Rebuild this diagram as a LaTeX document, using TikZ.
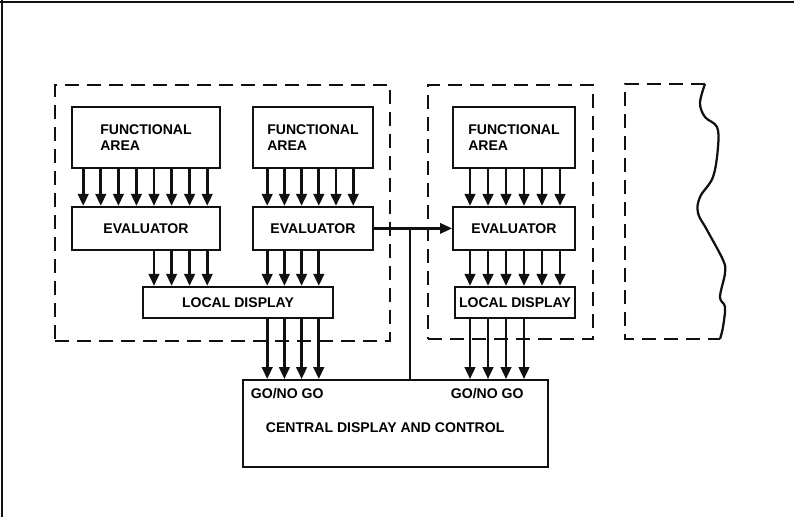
\documentclass[tikz,border=0pt]{standalone}
\usepackage{fontspec}
\setmainfont{Liberation Sans}
\usetikzlibrary{shapes,arrows.meta,positioning,calc}
\definecolor{InkBlack}{HTML}{111111}

\begin{document}
\begin{tikzpicture}[
    font=\bfseries\fontsize{10}{12}\selectfont,
    line join=miter,
    blk/.style={draw=InkBlack, line width=1.4pt, fill=white, align=left, inner sep=2pt},
    grp/.style={draw=InkBlack, line width=1.6pt, dash pattern=on 0.35cm off 0.2cm},
    sig/.style={draw=InkBlack, line width=2pt, -{Triangle[length=0.3cm,width=0.26cm]}},
    link/.style={draw=InkBlack, line width=1.6pt}
]

  \useasboundingbox (0,0) rectangle (19.85,-12.925);

  % Cadre de la page (haut et gauche)
  \draw[InkBlack, line width=1.5pt] (0,-0.05) -- (19.85,-0.05);
  \draw[InkBlack, line width=1.5pt] (0.05,0) -- (0.05,-12.925);

  % =========================================================================
  % GROUPES EN TIRETS
  % =========================================================================
  \node[grp, minimum width=8.375cm, minimum height=6.4cm] (grp1) at (5.56, -5.33) {};
  \node[grp, minimum width=4.125cm, minimum height=6.35cm] (grp2) at (12.76, -5.30) {};

  % groupe coupe a droite
  \draw[grp] (17.625,-2.1) -- (15.625,-2.1) -- (15.625,-8.475) -- (18.0,-8.475);
  \draw[InkBlack, line width=1.6pt] plot[smooth, tension=0.6] coordinates {
    (17.625,-2.1) (17.5,-2.575) (17.625,-2.925) (17.925,-3.175) (17.95,-3.675)
    (17.825,-4.425) (17.5,-4.925) (17.45,-5.325) (17.675,-5.75) (18.075,-6.5)
    (18.125,-6.825) (18.0,-7.425) (18.125,-7.675) (18.075,-8.175) (18.0,-8.475)};

  % =========================================================================
  % ZONES FONCTIONNELLES
  % =========================================================================
  \node[blk, minimum width=3.7cm, minimum height=1.525cm] (fa1) at (3.65, -3.44) {FUNCTIONAL\\AREA};
  \node[blk, minimum width=3.0cm, minimum height=1.525cm] (fa2) at (7.825, -3.44) {FUNCTIONAL\\AREA};
  \node[blk, minimum width=3.05cm, minimum height=1.525cm] (fa3) at (12.85, -3.44) {FUNCTIONAL\\AREA};

  % =========================================================================
  % EVALUATEURS
  % =========================================================================
  \node[blk, minimum width=3.7cm, minimum height=1.075cm] (ev1) at (3.65, -5.71) {EVALUATOR};
  \node[blk, minimum width=3.0cm, minimum height=1.075cm] (ev2) at (7.825, -5.71) {EVALUATOR};
  \node[blk, minimum width=3.05cm, minimum height=1.075cm] (ev3) at (12.85, -5.71) {EVALUATOR};

  % =========================================================================
  % AFFICHAGES LOCAUX ET CENTRAL
  % =========================================================================
  \node[blk, minimum width=4.75cm, minimum height=0.775cm] (ld1) at (5.95, -7.56) {LOCAL DISPLAY};
  \node[blk, minimum width=3.0cm, minimum height=0.775cm, inner sep=0pt] (ld3) at (12.875, -7.56) {LOCAL DISPLAY};

  \node[blk, minimum width=7.625cm, minimum height=2.175cm] (cdc) at (9.89, -10.59) {};
  \node (gng1) at (7.18, -9.83) {GO/NO GO};
  \node (gng2) at (12.18, -9.83) {GO/NO GO};
  \node (cdctxt) at (9.63, -10.68) {CENTRAL DISPLAY AND CONTROL};

  % =========================================================================
  % LIAISONS
  % =========================================================================
  \foreach \x in {2.08,2.52,2.96,3.41,3.85,4.29,4.74,5.18}
    \draw[sig] (\x,0 |- fa1.south) -- (\x,0 |- ev1.north);
  \foreach \x in {6.68,7.11,7.54,7.97,8.40,8.83}
    \draw[sig] (\x,0 |- fa2.south) -- (\x,0 |- ev2.north);
  \foreach \x in {11.75,12.2,12.65,13.1,13.55,14.0} {
    \draw[sig] (\x,0 |- fa3.south) -- (\x,0 |- ev3.north);
    \draw[sig] (\x,0 |- ev3.south) -- (\x,0 |- ld3.north);
  }
  \foreach \x in {3.85,4.29,4.74,5.18}
    \draw[sig] (\x,0 |- ev1.south) -- (\x,0 |- ld1.north);
  \foreach \x in {6.68,7.11,7.54,7.97} {
    \draw[sig] (\x,0 |- ev2.south) -- (\x,0 |- ld1.north);
    \draw[sig] (\x,0 |- ld1.south) -- (\x,0 |- cdc.north);
  }
  \foreach \x in {11.75,12.2,12.65,13.1}
    \draw[sig] (\x,0 |- ld3.south) -- (\x,0 |- cdc.north);

  % liaison entre evaluateurs et descente vers le central
  \draw[sig, line width=1.6pt] (ev2.east) -- (ev3.west);
  \coordinate (tap) at (10.25, -5.71);
  \draw[link] (tap) -- (tap |- cdc.north);

\end{tikzpicture}
\end{document}
